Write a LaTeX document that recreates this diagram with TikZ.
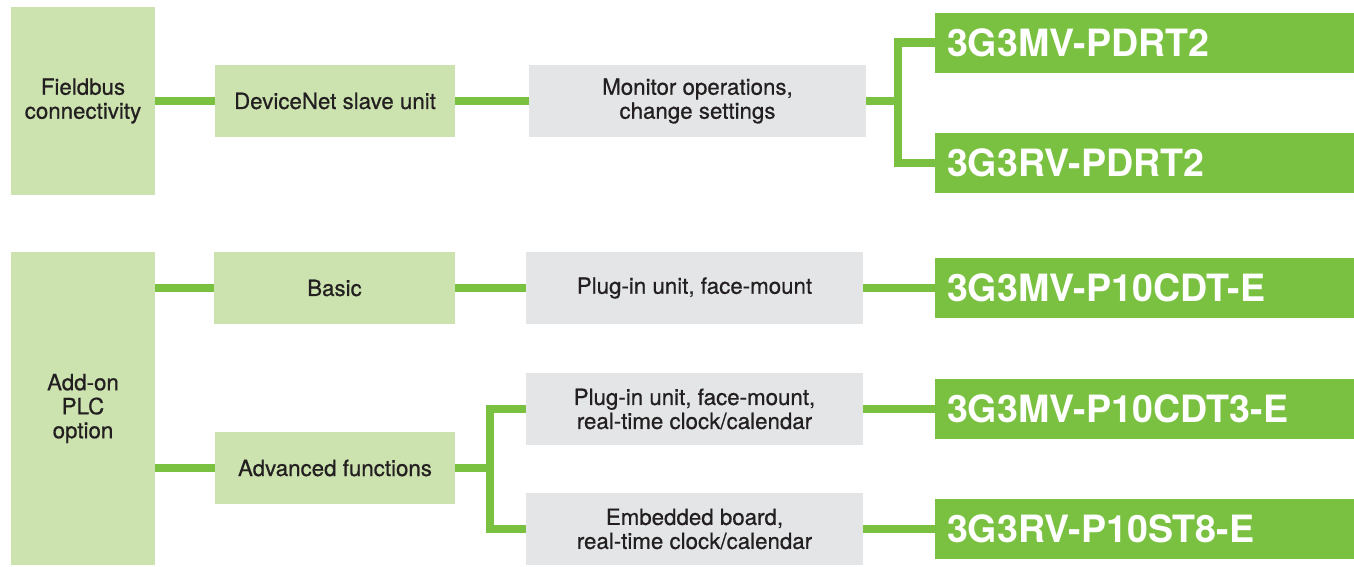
\documentclass[tikz,border=0pt]{standalone}
\usepackage{fontspec}
\setmainfont{TeX Gyre Heros}
\newfontfamily\medfont{TeX Gyre Heros}[FakeBold=0.6]
\definecolor{lgreen}{RGB}{204,227,176}
\definecolor{bgreen}{RGB}{122,193,66}
\definecolor{lgray}{RGB}{228,229,231}
\definecolor{txt}{RGB}{35,31,32}
\begin{document}
\begin{tikzpicture}[x=1pt,y=-1pt,
  box/.style={inner sep=0pt, outer sep=0pt, align=center, text=txt,
    font=\medfont\fontsize{22.3}{24}\selectfont},
  lg/.style={box, fill=lgreen},
  gy/.style={box, fill=lgray},
  gn/.style={fill=bgreen, text=white, font=\fontsize{37.6}{40}\selectfont\bfseries,
    inner xsep=12pt, inner ysep=0pt, outer sep=0pt, text width=395pt,
    align=left, minimum height=60pt, anchor=west},
  link/.style={draw=bgreen, line width=8.5pt}]
\useasboundingbox (0,0) rectangle (1354,566);

% top section
\node[lg, minimum width=144pt, minimum height=188pt] (fb) at (83,101) {Fieldbus\\connectivity};
\node[lg, minimum width=240pt, minimum height=72pt] (dn) at (335,101) {DeviceNet slave unit};
\node[gy, minimum width=337pt, minimum height=72pt] (mon) at (697.5,101) {Monitor operations,\\change settings};
\node[gn] (g1) at (935,42.5) {3G3MV-PDRT2};
\node[gn] (g2) at (935,163) {3G3RV-PDRT2};
\coordinate (j1) at (898,101);

\draw[link] (fb.east) -- (dn.west);
\draw[link] (dn.east) -- (mon.west);
\draw[link] (mon.east) -- (j1);
\draw[link] (g1.west) -| (j1) |- (g2.west);

% bottom section
\node[lg, minimum width=144pt, minimum height=313pt] (pa) at (83,408.5) {Add-on\\PLC\\option};
\node[lg, minimum width=241pt, minimum height=72pt] (basic) at (334.5,288) {Basic};
\node[lg, minimum width=240pt, minimum height=72pt] (adv) at (335,468) {Advanced functions};
\node[gy, minimum width=337pt, minimum height=72pt] (p1) at (694.5,288) {Plug-in unit, face-mount};
\node[gy, minimum width=337pt, minimum height=72pt] (p2) at (694.5,409) {Plug-in unit, face-mount,\\real-time clock/calendar};
\node[gy, minimum width=337pt, minimum height=72pt] (p3) at (694.5,529) {Embedded board,\\real-time clock/calendar};
\node[gn] (g3) at (935,288) {3G3MV-P10CDT-E};
\node[gn] (g4) at (935,409) {3G3MV-P10CDT3-E};
\node[gn] (g5) at (935,529) {3G3RV-P10ST8-E};
\coordinate (j2) at (490,468);

\draw[link] (pa.east |- basic.west) -- (basic.west);
\draw[link] (pa.east |- adv.west) -- (adv.west);
\draw[link] (basic.east) -- (p1.west);
\draw[link] (adv.east) -- (j2);
\draw[link] (p2.west) -| (j2) |- (p3.west);
\draw[link] (p1.east) -- (g3.west);
\draw[link] (p2.east) -- (g4.west);
\draw[link] (p3.east) -- (g5.west);
\end{tikzpicture}
\end{document}
